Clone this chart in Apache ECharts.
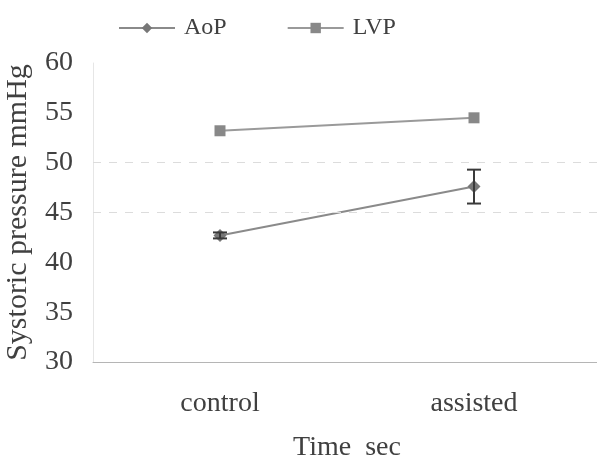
<!DOCTYPE html>
<html>
<head>
<meta charset="utf-8">
<script src="https://cdn.jsdelivr.net/npm/echarts@6/dist/echarts.min.js"></script>
<style>html,body{margin:0;padding:0;background:#fff}#c{width:597px;height:458px}</style>
</head>
<body>
<div id="c"></div>
<script>
// Systolic pressure, control vs assisted
var categories = ['control', 'assisted'];
var aop = [42.7, 47.6];
var aopErr = [0.3, 1.7];
var lvp = [53.2, 54.5];
var yTicks = [30, 35, 40, 45, 50, 55, 60];

var font = 'Liberation Serif, Times New Roman, serif';
var textColor = '#404040';

var chart = echarts.init(document.getElementById('c'));
chart.setOption({
  animation: false,
  grid: { left: 93, width: 508, top: 63, bottom: 96, outerBoundsMode: 'none', containLabel: false },
  legend: {
    top: 11, left: 113, itemGap: 60, itemWidth: 56, itemHeight: 13,
    textStyle: { fontFamily: font, fontSize: 24, color: textColor, padding: [4, 0, 0, 4] },
    data: ['AoP', 'LVP']
  },
  xAxis: {
    type: 'category', data: categories, boundaryGap: true,
    name: 'Time  sec', nameLocation: 'middle', nameGap: 72,
    nameTextStyle: { fontFamily: font, fontSize: 28, color: textColor },
    axisLine: { lineStyle: { color: '#b5b5b5' } },
    axisTick: { show: false },
    axisLabel: { fontFamily: font, fontSize: 28, color: textColor, margin: 28 }
  },
  yAxis: {
    type: 'value', min: yTicks[0], max: yTicks[yTicks.length - 1], interval: 5,
    name: 'Systoric pressure mmHg', nameLocation: 'middle', nameGap: 60,
    nameTextStyle: { fontFamily: font, fontSize: 30, color: textColor },
    axisLine: { show: true, lineStyle: { color: '#e6e6e6' } },
    axisTick: { show: false },
    splitLine: { show: false },
    axisLabel: { fontFamily: font, fontSize: 28, color: textColor, margin: 20 }
  },
  series: [
    {
      name: 'AoP', type: 'line', data: aop,
      symbol: 'diamond', symbolSize: 13,
      lineStyle: { color: '#8a8a8a', width: 2 },
      itemStyle: { color: '#777' },
      markLine: {
        silent: true, symbol: 'none', label: { show: false },
        lineStyle: { type: [8, 8], color: '#dcdcdc', width: 1 },
        data: [{ yAxis: 45 }, { yAxis: 50 }]
      }
    },
    {
      name: 'LVP', type: 'line', data: lvp,
      symbol: 'rect', symbolSize: 11,
      lineStyle: { color: '#9a9a9a', width: 2 },
      itemStyle: { color: '#888' }
    },
    {
      name: 'AoP error', type: 'custom',
      data: aop.map(function (v, i) { return [i, v - aopErr[i], v + aopErr[i]]; }),
      z: 5,
      renderItem: function (params, api) {
        var x = api.value(0);
        var lo = api.coord([x, api.value(1)]);
        var hi = api.coord([x, api.value(2)]);
        var w = 7;
        var st = { stroke: '#3a3a3a', lineWidth: 2 };
        return {
          type: 'group', children: [
            { type: 'line', shape: { x1: lo[0], y1: lo[1], x2: hi[0], y2: hi[1] }, style: st },
            { type: 'line', shape: { x1: lo[0] - w, y1: lo[1], x2: lo[0] + w, y2: lo[1] }, style: st },
            { type: 'line', shape: { x1: hi[0] - w, y1: hi[1], x2: hi[0] + w, y2: hi[1] }, style: st }
          ]
        };
      }
    }
  ]
});
</script>
</body>
</html>
